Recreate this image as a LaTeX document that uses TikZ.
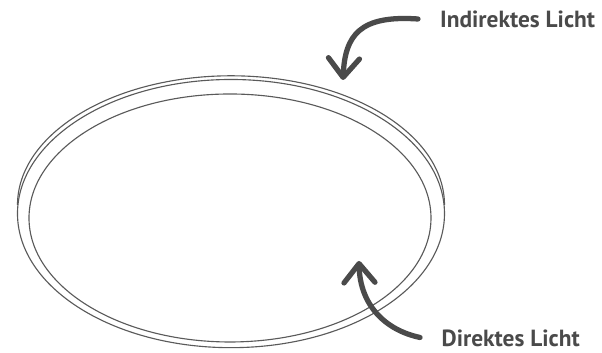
\documentclass[tikz,border=0pt]{standalone}
\usepackage{fontspec}
\setsansfont{PT Sans}
\usetikzlibrary{arrows.meta}
\definecolor{ink}{HTML}{4A4A4A}
\definecolor{rim}{HTML}{5A5A5A}

\begin{document}
\begin{tikzpicture}[
    font=\sffamily\bfseries\fontsize{6.65pt}{8pt}\selectfont,
    rimline/.style={draw=rim, line width=0.32pt},
    pointer/.style={-{Straight Barb[length=1.9mm, width=3.1mm, round]}, draw=ink, line width=1.5pt, line cap=round},
    label/.style={text=ink, inner sep=0pt, anchor=west}
]

% Page size, 1 unit = 100 px.
\def\W{6.02}
\def\H{3.53}
\useasboundingbox (0,0) rectangle (\W,\H);

% Lamp: lower body, upper rim edge, inner diffuser.
\draw[rimline] (2.31,1.394) ellipse [x radius=2.135, y radius=1.341];
\draw[rimline] (0.175,1.48) arc [start angle=180, end angle=0, x radius=2.135, y radius=1.292];
\draw[rimline] (2.30,1.35) ellipse [x radius=2.01, y radius=1.24];

% Labels.
\node[label] (indirect) at (4.395,3.34) {Indirektes Licht};
\node[label] (direct) at (4.41,0.145) {Direktes Licht};

% Arrow ends.
\coordinate (indirectEnd) at (3.43,2.73);
\coordinate (directEnd) at (3.59,0.92);

% Pointers.
\draw[pointer] ([xshift=-0.215cm]indirect.west) .. controls (3.60,3.38) and (3.45,3.18) .. (indirectEnd);
\draw[pointer] ([xshift=-0.21cm,yshift=0.01cm]direct.west) .. controls (3.85,0.23) and (3.60,0.48) .. (directEnd);

\end{tikzpicture}
\end{document}
